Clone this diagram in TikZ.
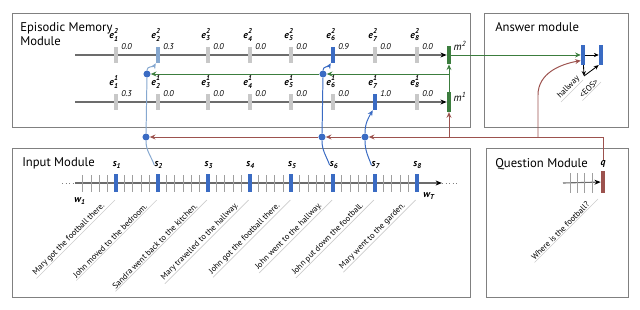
\documentclass[tikz,border=0pt]{standalone}
\usepackage{amsmath}
\usepackage{fontspec}
\setmainfont{PT Sans}
\usetikzlibrary{arrows.meta,positioning,calc}
\definecolor{barblue}{HTML}{3A6BC3}
\definecolor{paleblue}{HTML}{86A8D0}
\definecolor{memgreen}{HTML}{3C7D3E}
\definecolor{qbrown}{HTML}{9C524E}
\definecolor{tickgray}{HTML}{C8C8C8}
\definecolor{boxgray}{HTML}{808080}
\newcommand{\epis}[2]{{\bfseries\itshape e$^{\text{#1}}_{\text{#2}}$}}
\newcommand{\slab}[1]{{\bfseries\itshape s$_{\text{#1}}$}}

\begin{document}
\begin{tikzpicture}[x=0.025cm, y=-0.025cm,
  module/.style={draw=boxgray, line width=0.6pt},
  title/.style={anchor=north west, align=left, inner sep=0pt,
                font=\fontsize{9}{9.8}\selectfont},
  bar/.style={rectangle, inner sep=0pt, minimum width=2.8pt,
              minimum height=11.3pt, fill=#1},
  elab/.style={inner sep=0pt, font=\fontsize{7}{8}\selectfont},
  val/.style={anchor=west, inner sep=0pt, font=\fontsize{6}{7}\selectfont\itshape},
  sent/.style={rotate=45, anchor=south east, inner xsep=1pt, inner ysep=0.6pt,
               font=\fontsize{5.9}{7}\selectfont},
  uline/.style={draw=gray!40, line width=0.4pt},
  dot/.style={circle, fill=barblue, inner sep=0pt, minimum size=5pt},
  seq/.style={draw=gray!85!black, line width=0.8pt,
              -{Stealth[length=4.5pt, width=3.5pt, color=black]}},
  wtick/.style={draw=gray!75, line width=0.4pt},
  link/.style={draw=#1, line width=0.7pt},
  linkarr/.style={link=#1, -{Stealth[length=4pt, width=3.5pt]}},
  ansarr/.style={draw=black, line width=0.6pt, -{Stealth[length=3.5pt, width=3pt]}},
]
  \useasboundingbox (0,0) rectangle (640,310);

  % Modules
  \draw[module] (12,13) rectangle (470,127);
  \draw[module] (484,13) rectangle (628,127);
  \draw[module] (12,148) rectangle (470,297);
  \draw[module] (486,148) rectangle (628,297);
  \node[title] (memtitle) at (20,22) {Episodic Memory\\Module};
  \node[title] (anstitle) at (495,22) {Answer module};
  \node[title] (inptitle) at (22,157) {Input Module};
  \node[title] (qtitle) at (495,158) {Question Module};

  % Episodic Memory
  \node[bar=memgreen, minimum height=13pt] (m2) at (449,55) {};
  \node[bar=memgreen, minimum height=14pt] (m1) at (449,102) {};
  \node[elab, font=\fontsize{7.5}{8}\selectfont\itshape] (ml2) at (460,46) {m$^{\text{2}}$};
  \node[elab, font=\fontsize{7.5}{8}\selectfont\itshape] (ml1) at (460,97) {m$^{\text{1}}$};
  \coordinate (row2) at (75,55);
  \coordinate (row1) at (75,102);
  \draw[seq] (row2) -- (m2);
  \draw[seq] (row1) -- (m1);
  \foreach \i/\x/\v/\c in {1/116/0.0/tickgray, 2/158/0.3/paleblue, 3/208/0.0/tickgray,
      4/250/0.0/tickgray, 5/291/0.0/tickgray, 6/333/0.9/barblue,
      7/375/0.0/tickgray, 8/417/0.0/tickgray}{
    \node[bar=\c] (e2\i) at (\x,55) {};
    \node[elab] (el2\i) at (\x-2,35) {\epis{2}{\i}};
    \node[val] (v2\i) at (\x+5,47) {\v};
  }
  \foreach \i/\x/\v/\c in {1/116/0.3/tickgray, 2/158/0.0/tickgray, 3/208/0.0/tickgray,
      4/250/0.0/tickgray, 5/291/0.0/tickgray, 6/333/0.0/tickgray,
      7/375/1.0/barblue, 8/417/0.0/tickgray}{
    \node[bar=\c] (e1\i) at (\x,102) {};
    \node[elab] (el1\i) at (\x-2,82) {\epis{1}{\i}};
    \node[val] (v1\i) at (\x+5,94) {\v};
  }

  % Input Module
  \coordinate (wstart) at (75,183);
  \coordinate (wend) at (442,183);
  \draw[dotted, gray, line width=0.5pt] (62,183) -- (wstart);
  \draw[dotted, gray, line width=0.5pt] (wend) -- (458,183);
  \draw[seq] (wstart) -- (wend);
  \foreach \k in {0,...,39}
    \draw[wtick] (116+\k*8.35-33.4,175) -- (116+\k*8.35-33.4,192);
  \foreach \i/\x in {1/116, 2/157.75, 3/207.85, 4/249.6, 5/291.35, 6/333.1,
      7/374.85, 8/416.6}{
    \node[bar=barblue, minimum height=13pt] (s\i) at (\x,183) {};
    \node[elab] (sl\i) at (\x+1,165) {\slab{\i}};
  }
  \node[elab] (w1) at (80,201) {{\bfseries\itshape w$_{\text{1}}$}};
  \node[elab] (wT) at (429,196) {{\bfseries\itshape w$_{\text{T}}$}};
  \foreach \i/\x/\t in {1/116/Mary got the football there.,
      2/157.75/John moved to the bedroom.,
      3/207.85/Sandra went back to the kitchen.,
      4/249.6/Mary travelled to the hallway.,
      5/291.35/John got the football there.,
      6/333.1/John went to the hallway.,
      7/374.85/John put down the football.,
      8/416.6/Mary went to the garden.}{
    \node[sent] (t\i) at (\x-8,207) {\t};
    \draw[uline] (t\i.south west) -- ($(t\i.south east)+(7,-7)$);
  }

  % Question Module
  \node[bar=qbrown, minimum height=15pt] (q) at (603,182) {};
  \node[elab, font=\fontsize{7}{8}\selectfont\bfseries\itshape] (qlab) at (603,164) {q};
  \coordinate (qstart) at (563,183);
  \draw[seq] (qstart) -- (q);
  \foreach \x in {570,577,584,592}
    \draw[wtick] (\x,173) -- (\x,193);
  \node[sent] (tq) at (592,205) {Where is the football?};
  \draw[uline] (tq.south west) -- ($(tq.south east)+(6,-6)$);

  % Answer module
  \node[bar=barblue, minimum height=14pt] (a1) at (583,55) {};
  \node[bar=barblue, minimum height=14pt] (a2) at (601,55) {};
  \coordinate (hw) at (584,76);
  \draw[ansarr] (a1) -- (a2);
  \draw[ansarr] (a1) -- (hw);
  \draw[ansarr] (hw) -- (a2.south west);
  \node[sent] (ta1) at (583,80) {hallway};
  \node[sent] (ta2) at (601,82) {<EOS>};
  \draw[uline] (ta1.south west) -- (ta1.south east);
  \draw[uline] (ta2.south west) -- (ta2.south east);

  % Attention gates
  \node[dot] (d2g) at (147,74) {};
  \node[dot] (d6g) at (323,74) {};
  \node[dot] (d2r) at (146,137) {};
  \node[dot] (d6r) at (322,137) {};
  \node[dot] (d7r) at (365,137) {};

  % Memory flow
  \coordinate (gj) at (449,74);
  \draw[linkarr=memgreen] (m1) -- (m2);
  \draw[linkarr=memgreen] (gj) -- (d6g);
  \draw[linkarr=memgreen] (d6g) -- (d2g);
  \draw[linkarr=memgreen] (m2) -- (a1);

  % Question flow
  \coordinate (qj) at (603,137);
  \coordinate (rj1) at (449,137);
  \coordinate (rj2) at (538,137);
  \coordinate (rbend) at (538,95);
  \draw[link=qbrown] (qlab) -- (qj);
  \draw[linkarr=qbrown] (qj) -- (d7r);
  \draw[linkarr=qbrown] (d7r) -- (d6r);
  \draw[linkarr=qbrown] (d6r) -- (d2r);
  \draw[linkarr=qbrown] (rj1) -- (m1);
  \draw[linkarr=qbrown] (rj2) -- (rbend) to[out=90, in=190] ([yshift=-4pt]a1.west);

  % Facts into memory
  \draw[link=paleblue] (sl2.west) to[out=110, in=-90] (d2r);
  \draw[link=paleblue] (d2r) -- (d2g);
  \draw[linkarr=paleblue] (d2g) to[out=90, in=240] (e22.south west);
  \draw[link=barblue] (sl6.west) to[out=110, in=-90] (d6r);
  \draw[link=barblue] (d6r) -- (d6g);
  \draw[linkarr=barblue] (d6g) to[out=90, in=240] (e26.south west);
  \draw[link=barblue] (sl7.west) to[out=110, in=-90] (d7r);
  \draw[linkarr=barblue] (d7r) to[out=90, in=240] (e17.south west);
\end{tikzpicture}
\end{document}
